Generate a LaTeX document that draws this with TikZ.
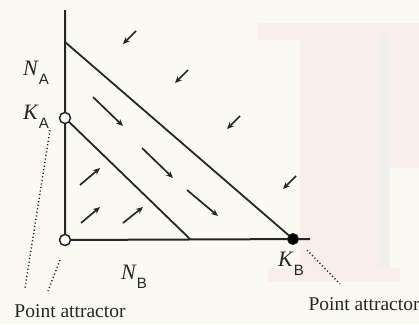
\documentclass[tikz,border=0pt]{standalone}
\usepackage{fontspec}
\setmainfont{Liberation Serif}
\newfontfamily\sansf{Liberation Sans}
\usetikzlibrary{arrows.meta}
\definecolor{bgcream}{HTML}{FBFAF2}
\definecolor{wmpink}{HTML}{FAEEEC}
\definecolor{wmgrey}{HTML}{F0EFEE}
\definecolor{ink}{HTML}{262626}
\tikzset{
  axisline/.style={draw=ink, line width=2pt},
  diagline/.style={draw=ink, line width=1.8pt},
  flow/.style={draw=ink, line width=1.7pt, -{Stealth[length=7pt,width=6pt]}},
  attractor/.style={draw=ink, line width=1.4pt, dash pattern=on 1.2pt off 2.4pt},
  opendot/.style={circle, draw=ink, fill=white, line width=1.5pt, minimum size=11pt, inner sep=0pt},
  filldot/.style={circle, draw=ink, fill=black, line width=1pt, minimum size=11pt, inner sep=0pt},
  lab/.style={font=\fontsize{22}{24}\selectfont, inner sep=0pt, text=ink},
  caption/.style={font=\fontsize{19.5}{22}\selectfont, inner sep=0pt, text=ink}
}
\newcommand{\symlab}[2]{\textit{#1}\raisebox{-0.4em}{\sansf\fontsize{15}{16}\selectfont #2}}
\begin{document}
\begin{tikzpicture}[x=1pt, y=-1pt]
\useasboundingbox (0,0) rectangle (419,324);
\fill[bgcream] (0,0) rectangle (419,324);
% faint watermark
\fill[wmpink] (258,23) rectangle (419,40);
\fill[wmpink] (300,23) rectangle (378,280);
\fill[wmpink] (390,40) rectangle (419,168);
\fill[wmgrey] (378,32) rectangle (390,278);
\fill[wmpink] (268,268) rectangle (400,282);
% coordinates
\coordinate (top) at (65,10);
\coordinate (na) at (65,42);
\coordinate (ka) at (65,118);
\coordinate (o) at (65,240);
\coordinate (kb) at (293,239);
\coordinate (xend) at (310,239);
\coordinate (inb) at (190,239);
% axes and isoclines
\draw[axisline] (top) -- (o) -- (xend);
\draw[diagline] (na) -- (kb);
\draw[diagline] (ka) -- (inb);
% equilibrium points
\node[opendot] (O) at (o) {};
\node[opendot] (KA) at (ka) {};
\node[filldot] (KB) at (kb) {};
% flow arrows
\draw[flow] (93,97) -- (123,126);
\draw[flow] (142,148) -- (173,178);
\draw[flow] (187,190) -- (218,216);
\draw[flow] (80,185) -- (100,168);
\draw[flow] (81,223) -- (100,207);
\draw[flow] (123,223) -- (143,207);
\draw[flow] (136,31) -- (123,44);
\draw[flow] (188,70) -- (175,83);
\draw[flow] (240,116) -- (227,129);
\draw[flow] (296,176) -- (283,189);
% labels
\node[lab] (lNA) at (36,73) {\symlab{N}{A}};
\node[lab] (lKA) at (36,117) {\symlab{K}{A}};
\node[lab] (lNB) at (134,277) {\symlab{N}{B}};
\node[lab] (lKB) at (291,264) {\symlab{K}{B}};
% point attractor captions
\node[caption] (pa1) at (70,311) {Point attractor};
\node[caption] (pa2) at (364,304) {Point attractor};
\coordinate (d1a) at (50,130);
\coordinate (d1b) at (25,288);
\coordinate (d2a) at (60,260);
\coordinate (d2b) at (48,291);
\coordinate (d3a) at (307,250);
\coordinate (d3b) at (340,284);
\draw[attractor] (d1a) -- (d1b);
\draw[attractor] (d2a) -- (d2b);
\draw[attractor] (d3a) -- (d3b);
\end{tikzpicture}
\end{document}
